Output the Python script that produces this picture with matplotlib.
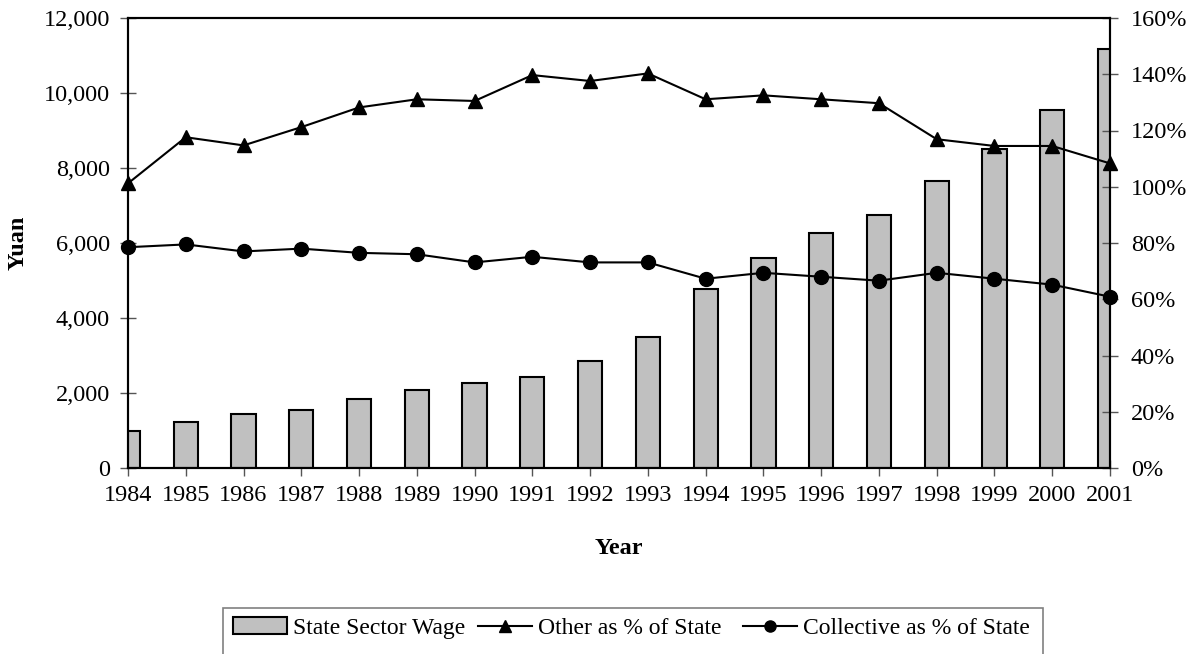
import matplotlib.pyplot as plt
from matplotlib.patches import Rectangle
from matplotlib.ticker import FuncFormatter

years = [str(y) for y in range(1984, 2002)]

state_wage = [1000, 1218, 1431, 1538, 1849, 2072, 2275, 2435, 2862, 3502,
              4782, 5600, 6275, 6755, 7662, 8515, 9538, 11182]

other_pct = [101.2, 117.6, 114.7, 121.2, 128.2, 131.1, 130.5, 139.7, 137.6, 140.3,
             131.1, 132.5, 131.1, 129.7, 116.9, 114.5, 114.5, 108.3]

collective_pct = [78.5, 79.5, 77.0, 78.0, 76.5, 76.0, 73.1, 75.1, 73.1, 73.1,
                  67.3, 69.4, 68.0, 66.6, 69.4, 67.3, 65.2, 60.9]

plt.rcParams['font.family'] = ['Liberation Serif', 'DejaVu Serif']
plt.rcParams['font.size'] = 17.5

W, H = 1193, 654
fig = plt.figure(figsize=(W / 100, H / 100), dpi=100)
ax = fig.add_axes([128 / W, 1 - 468 / H, (1110 - 128) / W, (468 - 18) / H])
ax2 = ax.twinx()

x = list(range(len(years)))
bars = ax.bar(x, state_wage, width=0.42, color='#C0C0C0', edgecolor='black',
              linewidth=1.5, label='State Sector Wage', zorder=2)
l1, = ax2.plot(x, other_pct, color='black', lw=1.5, marker='^', markersize=10,
               label='Other as % of State')
l2, = ax2.plot(x, collective_pct, color='black', lw=1.5, marker='o', markersize=10,
               label='Collective as % of State')
for ln in (l1, l2):
    ln.set_clip_on(False)

ax.set_xlim(0, len(years) - 1)
ax.set_ylim(0, 12000)
ax.set_yticks(range(0, 12001, 2000))
ax.yaxis.set_major_formatter(FuncFormatter(lambda v, p: f'{int(v):,}'))
ax2.set_ylim(0, 160)
ax2.set_yticks(range(0, 161, 20))
ax2.yaxis.set_major_formatter(FuncFormatter(lambda v, p: f'{int(v)}%'))

ax.set_xticks(x)
ax.set_xticklabels(years)

ax.tick_params(axis='x', direction='inout', length=12, width=1, color='#555555', pad=6)
ax.tick_params(axis='y', direction='inout', length=12, width=1, color='#555555', pad=7)
ax2.tick_params(axis='y', direction='inout', length=12, width=1, color='#555555', pad=9)

for a in (ax, ax2):
    for s in a.spines.values():
        s.set_linewidth(1.5)
        s.set_color('black')

ax.set_xlabel('Year', fontweight='bold', labelpad=23)
ax.set_ylabel('Yuan', fontweight='bold', labelpad=11)

# legend: one entry per box so each sits where the reference has it
legend_x = [233, 478, 743]
for handle, lx in zip([bars, l1, l2], legend_x):
    fig.legend(handles=[handle], loc='center left', frameon=False,
               bbox_to_anchor=(lx / W, 1 - 628 / H), handlelength=2.3,
               handletextpad=0.25, borderpad=0, borderaxespad=0,
               markerscale=0.8, fontsize=17)
fig.patches.append(Rectangle((223 / W, -0.05), (1043 - 223) / W, 0.05 + 1 - 608 / H,
                             transform=fig.transFigure, fill=False,
                             edgecolor='#808080', linewidth=1.2))

fig.savefig('out.png', dpi=100)
